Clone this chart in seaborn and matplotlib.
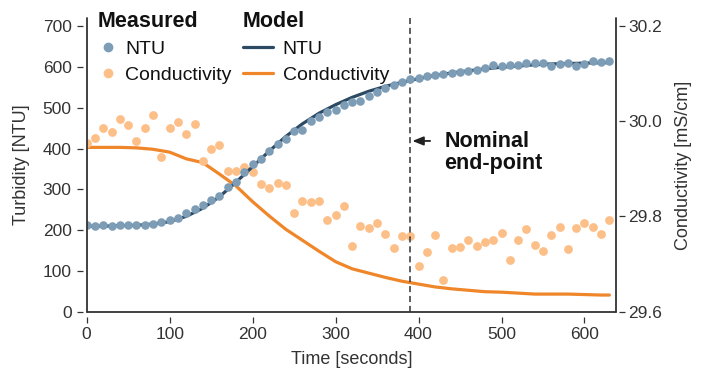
import matplotlib
matplotlib.use("Agg")
import matplotlib.pyplot as plt
import seaborn as sns
from matplotlib.lines import Line2D

# ---------------- data ----------------
time_measured = [0, 10, 20, 30, 40, 50, 60, 70, 80, 90,
                 100, 110, 120, 130, 140, 150, 160, 170, 180, 190,
                 200, 210, 220, 230, 240, 250, 260, 270, 280, 290,
                 300, 310, 320, 330, 340, 350, 360, 370, 380, 390,
                 400, 410, 420, 430, 440, 450, 460, 470, 480, 490,
                 500, 510, 520, 530, 540, 550, 560, 570, 580, 590,
                 600, 610, 620, 630]
ntu_measured = [213, 210, 214, 210, 213, 213, 213, 213, 216, 221,
                224, 231, 241, 251, 261, 274, 284, 305, 319, 342,
                362, 374, 394, 411, 425, 443, 447, 467, 478, 489,
                496, 507, 514, 518, 529, 540, 548, 556, 563, 570,
                574, 579, 581, 583, 586, 588, 590, 594, 598, 606,
                603, 605, 605, 610, 610, 610, 603, 607, 610, 603,
                609, 615, 612, 615]
cond_measured = [29.954, 29.965, 29.986, 29.978, 30.004, 29.992, 29.959, 29.986, 30.014, 29.924,
                 29.986, 29.998, 29.973, 29.994, 29.917, 29.942, 29.950, 29.895, 29.895, 29.903,
                 29.893, 29.868, 29.859, 29.870, 29.866, 29.807, 29.833, 29.830, 29.833, 29.792,
                 29.802, 29.822, 29.738, 29.779, 29.776, 29.786, 29.763, 29.733, 29.759, 29.759,
                 29.697, 29.725, 29.761, 29.667, 29.733, 29.736, 29.750, 29.738, 29.746, 29.750,
                 29.766, 29.709, 29.750, 29.773, 29.740, 29.728, 29.761, 29.777, 29.731, 29.775,
                 29.787, 29.777, 29.763, 29.793]

time_model = [0, 20, 40, 60, 80, 100, 120, 140, 160, 180, 200, 220, 240, 260, 280,
              300, 320, 340, 360, 380, 400, 420, 440, 460, 480, 500, 520, 540, 560,
              580, 600, 620, 630]
ntu_model = [210, 210, 211, 212, 215, 221, 234, 254, 282, 318, 356, 394, 430, 461, 487,
             508, 526, 541, 553, 563, 572, 580, 586, 591, 596, 600, 603, 606, 608,
             609, 610, 611, 611]
cond_model = [29.945, 29.945, 29.945, 29.944, 29.941, 29.935, 29.921, 29.913, 29.889, 29.864,
              29.831, 29.801, 29.773, 29.750, 29.727, 29.705, 29.690, 29.681, 29.672, 29.664,
              29.658, 29.652, 29.648, 29.645, 29.642, 29.641, 29.639, 29.637, 29.637, 29.637,
              29.636, 29.635, 29.635]

x_ticks = [0, 100, 200, 300, 400, 500, 600]
ntu_ticks = [0, 100, 200, 300, 400, 500, 600, 700]
cond_ticks = [29.6, 29.8, 30.0, 30.2]
cond_tick_labels = ["29.6", "29.8", "30.0", "30.2"]
endpoint_time = 390

# ---------------- style ----------------
sns.set_theme(style="ticks")
plt.rcParams["font.family"] = ["Liberation Sans", "DejaVu Sans"]

c_ntu_pt = "#7d9cb5"
c_ntu_ln = "#2c4a63"
c_cond_pt = "#fdbf88"
c_cond_ln = "#f0862a"
c_text = "#333333"

fig = plt.figure(figsize=(7.07, 3.76), dpi=100)
ax = fig.add_axes([0.1226, 0.171, 0.7487, 0.7803])
ax2 = ax.twinx()

# conductivity (right axis)
sns.lineplot(x=time_model, y=cond_model, ax=ax2, color=c_cond_ln, lw=2.3, zorder=2)
sns.scatterplot(x=time_measured, y=cond_measured, ax=ax2, color=c_cond_pt, s=40,
                linewidth=0, zorder=3)

# turbidity (left axis) on top
ax.set_zorder(ax2.get_zorder() + 1)
ax.patch.set_visible(False)
sns.lineplot(x=time_model, y=ntu_model, ax=ax, color=c_ntu_ln, lw=2.3, zorder=2)
sns.scatterplot(x=time_measured, y=ntu_measured, ax=ax, color=c_ntu_pt, s=38,
                linewidth=0, zorder=3)

ax.set_xlim(0, 638)
ax.set_ylim(0, 720)
ax2.set_ylim(29.6, 30.216)
ax.set_xticks(x_ticks)
ax.set_yticks(ntu_ticks)
ax2.set_yticks(cond_ticks)
ax2.set_yticklabels(cond_tick_labels)

# spines: detached ticks
for a in (ax, ax2):
    for s in a.spines.values():
        s.set_visible(False)
ax.spines["left"].set_position(("outward", 3))
ax.spines["bottom"].set_position(("outward", 3.5))
ax2.spines["right"].set_position(("outward", 2))
for xs, ys in (([0, 0], [0, 1]), ([0, 1], [0, 0]), ([1, 1], [0, 1])):
    ax.add_line(Line2D(xs, ys, transform=ax.transAxes, color=c_text, lw=1.3,
                       clip_on=False, zorder=5))

ax.tick_params(axis="both", direction="out", length=4.3, width=0.9, color=c_text,
               labelsize=12.5, labelcolor=c_text, pad=3.5, left=True, bottom=True)
ax2.tick_params(axis="y", direction="out", length=4.3, width=0.9, color=c_text,
                labelsize=12.5, labelcolor=c_text, pad=2.5, right=True)

ax.set_xlabel("Time [seconds]", fontsize=13, color=c_text, labelpad=6)
ax.set_ylabel("Turbidity [NTU]", fontsize=13, color=c_text, labelpad=9)
ax2.set_ylabel("Conductivity [mS/cm]", fontsize=13, color=c_text, labelpad=9)

# nominal end-point
ax.axvline(endpoint_time, color=c_text, lw=1.1, ls=(0, (4, 2.5)), zorder=1)
ax.annotate("", xy=(392.5, 419), xytext=(414, 419),
            arrowprops=dict(arrowstyle="-|>,head_length=0.55,head_width=0.22",
                            lw=1.3, color="#222222", shrinkA=0, shrinkB=0))
ax.text(431, 391, "Nominal\nend-point", fontsize=15.5, fontweight="bold",
        color="#111111", ha="left", va="center", linespacing=1.05)

# legends
h_ntu_pt = Line2D([], [], ls="none", marker="o", color=c_ntu_pt, markersize=6)
h_cond_pt = Line2D([], [], ls="none", marker="o", color=c_cond_pt, markersize=6)
h_ntu_ln = Line2D([], [], color=c_ntu_ln, lw=2.3)
h_cond_ln = Line2D([], [], color=c_cond_ln, lw=2.3)
common = dict(frameon=False, loc="upper left", bbox_transform=fig.transFigure,
              fontsize=14, borderpad=0, borderaxespad=0, labelspacing=0.42,
              alignment="left",
              title_fontproperties={"weight": "bold", "size": 15.5})
anchor_y = 1 - 11 / 376
leg1 = ax.legend([h_ntu_pt, h_cond_pt], ["NTU", "Conductivity"], title="Measured",
                 bbox_to_anchor=(98 / 707, anchor_y), handlelength=1.0,
                 handletextpad=0.4, **common)
ax.add_artist(leg1)
leg2 = ax.legend([h_ntu_ln, h_cond_ln], ["NTU", "Conductivity"], title="Model",
                 bbox_to_anchor=(243 / 707, anchor_y), handlelength=1.55,
                 handletextpad=0.5, **common)
for lg in (leg1, leg2):
    for t in lg.get_texts():
        t.set_color("#111111")
    lg.get_title().set_color("#111111")

fig.savefig("out.png", dpi=100)
